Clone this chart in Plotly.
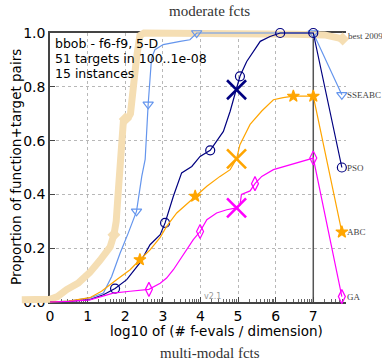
import plotly.graph_objects as go

# ---------------- data (log10 of #f-evals/dim, proportion of pairs) ----------------
best2009_x = [-0.75, -0.3, 0.0, 0.2, 0.44, 0.75, 1.06, 1.33, 1.6, 1.7, 1.76, 1.82, 1.88,
              1.95, 2.08, 2.14, 2.3, 2.39, 2.5, 3.5, 5.0, 6.5, 7.3, 7.78]
best2009_y = [0.008, 0.008, 0.01, 0.02, 0.046, 0.07, 0.11, 0.155, 0.205, 0.25, 0.3,
              0.42, 0.53, 0.67, 0.685, 0.70, 0.907, 0.99, 1.0, 1.0, 0.998, 0.995, 0.993, 0.978]
best2009_mx = [1.7, 2.0, 7.78]
best2009_my = [0.25, 0.68, 0.978]

sseabc_x = [0, 0.5, 1.06, 1.42, 1.64, 1.86, 2.08, 2.3, 2.44, 2.53, 2.61, 2.70, 2.79,
            3.01, 3.46, 3.72, 3.86, 3.9, 5.0, 6.0, 7.0, 7.76]
sseabc_y = [0, 0.003, 0.015, 0.033, 0.095, 0.18, 0.256, 0.337, 0.467, 0.53, 0.735,
            0.907, 0.938, 0.957, 0.969, 0.975, 0.994, 1.0, 1.0, 1.0, 1.0, 0.77]
sseabc_mx = [2.3, 2.61, 3.9, 7.0, 7.76]
sseabc_my = [0.337, 0.735, 1.0, 1.0, 0.77]

pso_x = [0, 0.5, 1.06, 1.42, 1.73, 2.04, 2.39, 2.66, 2.93, 3.06, 3.28, 3.5, 3.77,
         3.99, 4.26, 4.61, 4.79, 4.96, 5.05, 5.23, 5.36, 5.59, 5.85, 6.12, 7.0, 7.76]
pso_y = [0, 0.002, 0.009, 0.027, 0.05, 0.083, 0.145, 0.213, 0.25, 0.294, 0.393, 0.48,
         0.504, 0.541, 0.564, 0.634, 0.709, 0.789, 0.839, 0.894, 0.92, 0.969, 0.987,
         1.0, 1.0, 0.5]
pso_mx = [1.73, 3.06, 4.26, 5.05, 6.12, 7.0, 7.76]
pso_my = [0.05, 0.294, 0.564, 0.839, 1.0, 1.0, 0.5]

abc_x = [0, 0.5, 1.06, 1.37, 1.77, 2.13, 2.39, 2.66, 2.93, 3.10, 3.37, 3.86, 4.17,
         4.52, 4.79, 4.96, 5.05, 5.32, 5.63, 5.94, 6.2, 6.47, 7.0, 7.76]
abc_y = [0, 0.003, 0.016, 0.04, 0.083, 0.12, 0.157, 0.194, 0.24, 0.281, 0.331, 0.393,
         0.43, 0.467, 0.492, 0.532, 0.585, 0.66, 0.71, 0.752, 0.76, 0.765, 0.765, 0.26]
abc_mx = [2.39, 3.86, 6.47, 7.0, 7.76]
abc_my = [0.157, 0.393, 0.765, 0.765, 0.26]

ga_x = [0, 0.5, 1.06, 1.33, 1.68, 2.13, 2.48, 2.63, 2.93, 3.1, 3.28, 3.46, 3.64, 3.81,
        3.99, 4.17, 4.43, 4.7, 4.96, 5.05, 5.09, 5.32, 5.45, 5.63, 5.94, 6.38, 6.74,
        7.0, 7.76]
ga_y = [0, 0.002, 0.008, 0.02, 0.033, 0.04, 0.046, 0.047, 0.07, 0.089, 0.12, 0.157,
        0.194, 0.232, 0.262, 0.306, 0.331, 0.343, 0.35, 0.36, 0.40, 0.413, 0.44, 0.467,
        0.492, 0.51, 0.523, 0.535, 0.02]
ga_mx = [2.63, 3.99, 5.45, 7.0, 7.76]
ga_my = [0.047, 0.262, 0.44, 0.535, 0.02]

# budget crosses
cross_x = [4.96, 4.96, 4.96]
cross_y = [0.789, 0.532, 0.35]

max_budget = 7.0
x_ticks = [0, 1, 2, 3, 4, 5, 6, 7]
y_ticks = [0.0, 0.2, 0.4, 0.6, 0.8, 1.0]

# ---------------- geometry ----------------
W, H = 382, 364
X_MAX = 7.87
PX_L, PX_R, PX_T, PX_B = 50, 346, 33, 302
sx = X_MAX / (PX_R - PX_L)
sy = 1.0 / (PX_B - PX_T)

C_BEST = "rgb(245,222,179)"
C_SSE = "#6495ED"
C_PSO = "#000080"
C_ABC = "#FFA500"
C_GA = "#FF00FF"

fig = go.Figure()

# curves live on a full-page axis pair with the same scale, so nothing is clipped at the frame
ov = dict(xaxis="x2", yaxis="y2", showlegend=False, hoverinfo="skip")

fig.add_trace(go.Scatter(x=best2009_x, y=best2009_y, mode="lines",
                         line=dict(color=C_BEST, width=7), **ov))
fig.add_trace(go.Scatter(x=best2009_mx, y=best2009_my, mode="markers",
                         marker=dict(symbol="diamond", size=10, color=C_BEST), **ov))

series = [
    (sseabc_x, sseabc_y, sseabc_mx, sseabc_my, C_SSE, "triangle-down-open", 9),
    (pso_x, pso_y, pso_mx, pso_my, C_PSO, "circle-open", 9),
    (abc_x, abc_y, abc_mx, abc_my, C_ABC, "star", 9),
    (ga_x, ga_y, ga_mx, ga_my, C_GA, "diamond-tall-open", 10),
]
for xs, ys, mx, my, col, sym, size in series:
    fig.add_trace(go.Scatter(x=xs, y=ys, mode="lines",
                             line=dict(color=col, width=1.2), **ov))
    fig.add_trace(go.Scatter(x=mx, y=my, mode="markers",
                             marker=dict(symbol=sym, size=size, color=col,
                                         line=dict(color=col, width=1.2)), **ov))

for cxv, cyv, col in zip(cross_x, cross_y, [C_PSO, C_ABC, C_GA]):
    fig.add_trace(go.Scatter(x=[cxv], y=[cyv], mode="markers",
                             marker=dict(symbol="x-thin", size=19,
                                         line=dict(color=col, width=2.6)), **ov))

# end-of-line labels
labels = [("best 2009", best2009_x[-1], best2009_y[-1] + 0.01),
          ("SSEABC", sseabc_x[-1], sseabc_y[-1]),
          ("PSO", pso_x[-1], pso_y[-1]),
          ("ABC", abc_x[-1], abc_y[-1]),
          ("GA", ga_x[-1], ga_y[-1])]
annotations = []
for txt, lx, ly in labels:
    annotations.append(dict(x=lx, y=ly, xref="x2", yref="y2", text=txt, showarrow=False,
                            xanchor="left", yanchor="middle", xshift=3,
                            font=dict(family="Liberation Serif", size=9, color="#444")))

info = ["bbob - f6-f9, 5-D", "51 targets in 100..1e-08", "15 instances"]
for i, line in enumerate(info):
    annotations.append(dict(x=(PX_L + 3) / W, y=1 - (43 + 15.5 * i) / H, xref="paper",
                            yref="paper", text=line, showarrow=False, xanchor="left",
                            yanchor="middle",
                            font=dict(family="DejaVu Sans", size=12.5, color="black")))

annotations += [
    dict(x=209 / W, y=1 - 11 / H, xref="paper", yref="paper", text="moderate fcts",
         showarrow=False, xanchor="center", yanchor="middle",
         font=dict(family="Liberation Serif", size=15, color="#333")),
    dict(x=210 / W, y=1 - 353 / H, xref="paper", yref="paper", text="multi-modal fcts",
         showarrow=False, xanchor="center", yanchor="middle",
         font=dict(family="Liberation Serif", size=15, color="#333")),
    dict(x=216 / W, y=1 - 331 / H, xref="paper", yref="paper",
         text="log10 of (# f-evals / dimension)", showarrow=False,
         xanchor="center", yanchor="middle",
         font=dict(family="DejaVu Sans", size=13.5, color="black")),
    dict(x=16 / W, y=1 - 167 / H, xref="paper", yref="paper",
         text="Proportion of function+target pairs", showarrow=False, textangle=-90,
         xanchor="center", yanchor="middle",
         font=dict(family="DejaVu Sans", size=13.5, color="black")),
    dict(x=4.33, y=0.02, xref="x", yref="y", text="v2.1", showarrow=False,
         xanchor="center", yanchor="middle",
         font=dict(family="DejaVu Sans", size=8, color="#999")),
]

minor_x = [i + v for i in range(8) for v in (0.301, 0.477, 0.602, 0.699, 0.778, 0.845, 0.903, 0.954)
           if i + v < X_MAX]

fig.update_layout(
    width=W, height=H, margin=dict(l=0, r=0, t=0, b=0),
    paper_bgcolor="white", plot_bgcolor="rgba(0,0,0,0)",
    xaxis=dict(domain=[PX_L / W, PX_R / W], range=[0, X_MAX], tickvals=x_ticks,
               ticktext=[str(v) for v in x_ticks], showgrid=True, gridcolor="#b8b8b8",
               griddash="dot", gridwidth=1, zeroline=False, showline=True,
               linecolor="#444", linewidth=1.5, mirror=True, ticks="inside", ticklen=5,
               tickcolor="#444",
               minor=dict(tickvals=minor_x, ticks="inside", ticklen=3, tickcolor="#666",
                          showgrid=False),
               tickfont=dict(family="DejaVu Sans", size=14, color="black"),
               automargin=False, fixedrange=True),
    yaxis=dict(domain=[1 - PX_B / H, 1 - PX_T / H], range=[0, 1], tickvals=y_ticks,
               ticktext=[f"{v:.1f}" for v in y_ticks], showgrid=True, gridcolor="#b8b8b8",
               griddash="dot", gridwidth=1, zeroline=False, showline=True,
               linecolor="#444", linewidth=1.5, mirror=False, ticks="inside", ticklen=5,
               tickcolor="#444",
               tickfont=dict(family="DejaVu Sans", size=14, color="black"),
               automargin=False, fixedrange=True),
    xaxis2=dict(domain=[0, 1], range=[-PX_L * sx, (W - PX_L) * sx],
                anchor="y2", visible=False, fixedrange=True),
    yaxis2=dict(domain=[0, 1], range=[-(H - PX_B) * sy, PX_B * sy],
                anchor="x2", visible=False, fixedrange=True),
    shapes=[dict(type="line", xref="x", yref="y", x0=max_budget, x1=max_budget, y0=0, y1=1,
                 line=dict(color="#555", width=1.5), layer="between")],
    annotations=annotations,
)

fig.write_html("out.html")
